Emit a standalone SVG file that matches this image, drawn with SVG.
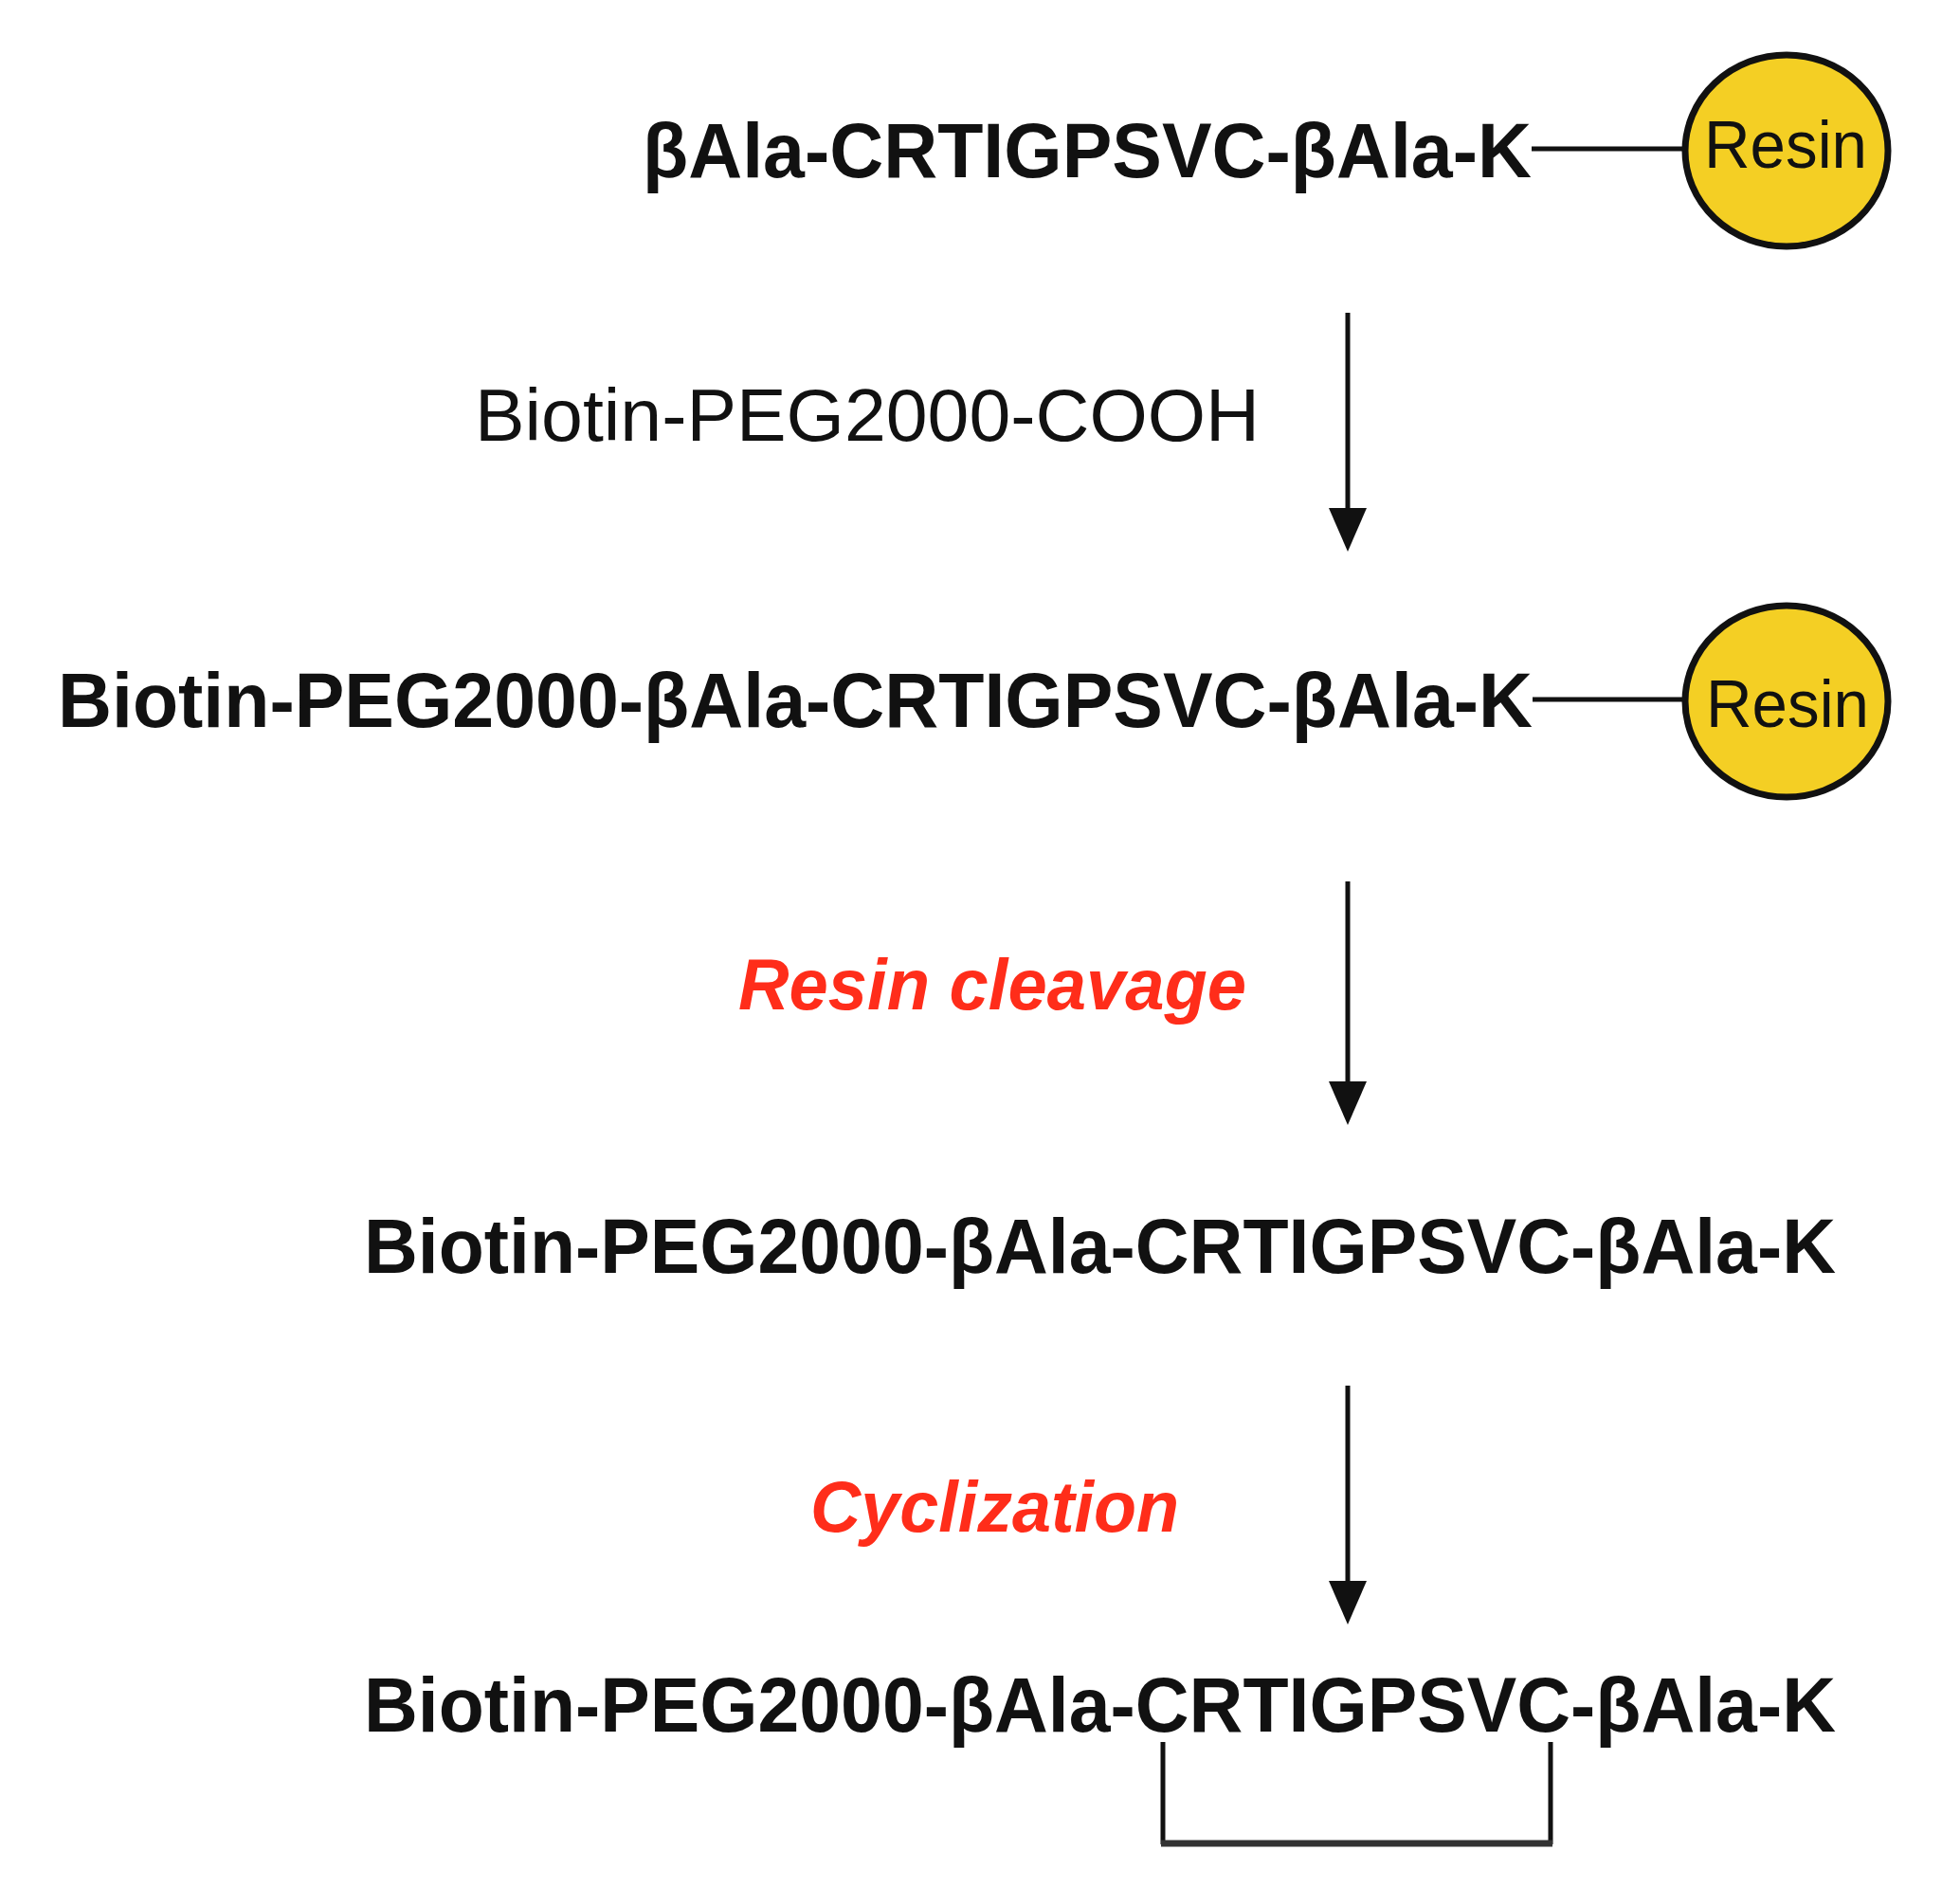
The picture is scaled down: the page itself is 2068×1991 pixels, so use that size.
<svg xmlns="http://www.w3.org/2000/svg" width="2068" height="1991" viewBox="0 0 2068 1991">
<defs>
<style>
.pep{font-family:"Liberation Sans",Arial,sans-serif;font-weight:bold;font-size:81px;fill:#111;}
.reag{font-family:"Liberation Sans",Arial,sans-serif;font-size:78px;fill:#111;}
.cond{font-family:"Liberation Sans",Arial,sans-serif;font-weight:bold;font-style:italic;font-size:76px;fill:#FF2D1A;}
.resin{font-family:"Liberation Sans",Arial,sans-serif;font-size:71px;fill:#111;text-anchor:middle;}
.bead{fill:#F4CF24;stroke:#111;stroke-width:7;}
.link{stroke:#111;stroke-width:5;fill:none;}
.arrow{stroke:#111;stroke-width:5;fill:none;marker-end:url(#head);}
</style>
<marker id="head" markerUnits="userSpaceOnUse" viewBox="0 -22 46 44" markerWidth="46" markerHeight="44" refX="2" refY="0" orient="auto">
<path d="M0,-20 L46,0 L0,20 Z" fill="#111"/>
</marker>
</defs>
<rect width="2068" height="1991" fill="#fff"/>

<g id="node-peptide-resin">
<text class="pep" x="678" y="187" textLength="938" lengthAdjust="spacingAndGlyphs">βAla-CRTIGPSVC-βAla-K</text>
<ellipse class="bead" cx="1885" cy="159" rx="107" ry="101"/>
<text class="resin" x="1884" y="177" textLength="172" lengthAdjust="spacingAndGlyphs">Resin</text>
</g>

<g id="node-biotin-peptide-resin">
<text class="pep" x="61" y="767" textLength="1556" lengthAdjust="spacingAndGlyphs">Biotin-PEG2000-βAla-CRTIGPSVC-βAla-K</text>
<ellipse class="bead" cx="1885" cy="740" rx="107" ry="101"/>
<text class="resin" x="1886" y="767" textLength="172" lengthAdjust="spacingAndGlyphs">Resin</text>
</g>

<g id="node-linear-peptide">
<text class="pep" x="384" y="1343" textLength="1553" lengthAdjust="spacingAndGlyphs">Biotin-PEG2000-βAla-CRTIGPSVC-βAla-K</text>
</g>

<g id="node-cyclic-peptide">
<text class="pep" x="384" y="1827" textLength="1553" lengthAdjust="spacingAndGlyphs">Biotin-PEG2000-βAla-CRTIGPSVC-βAla-K</text>
<path class="link" d="M1227,1838 V1946 M1636,1838 V1946"/>
<line x1="1225" y1="1945" x2="1638" y2="1945" stroke="#333" stroke-width="7"/>
</g>

<g id="labels">
<text class="reag" x="501" y="465" textLength="828" lengthAdjust="spacingAndGlyphs">Biotin-PEG2000-COOH</text>
<text class="cond" x="779" y="1065" textLength="536" lengthAdjust="spacingAndGlyphs">Resin cleavage</text>
<text class="cond" x="855" y="1616" textLength="389" lengthAdjust="spacingAndGlyphs">Cyclization</text>
</g>

<g id="connectors">
<line class="link" x1="1616" y1="157" x2="1779" y2="157"/>
<line class="link" x1="1617" y1="738" x2="1779" y2="738"/>
<line class="arrow" x1="1422" y1="330" x2="1422" y2="538"/>
<line class="arrow" x1="1422" y1="930" x2="1422" y2="1143"/>
<line class="arrow" x1="1422" y1="1462" x2="1422" y2="1670"/>
</g>
</svg>
